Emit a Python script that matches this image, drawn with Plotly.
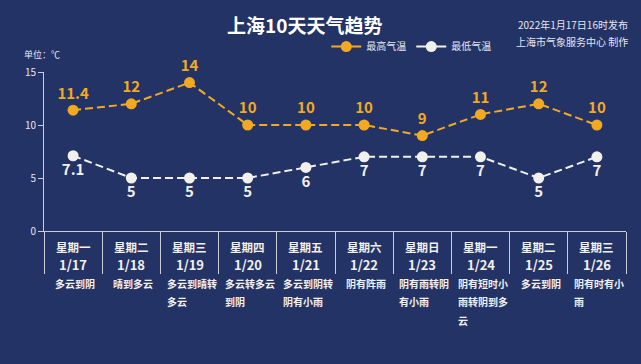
import plotly.graph_objects as go

weekdays = ["星期一", "星期二", "星期三", "星期四", "星期五", "星期六", "星期日", "星期一", "星期二", "星期三"]
dates = ["1/17", "1/18", "1/19", "1/20", "1/21", "1/22", "1/23", "1/24", "1/25", "1/26"]
high = [11.4, 12, 14, 10, 10, 10, 9, 11, 12, 10]
low = [7.1, 5, 5, 5, 6, 7, 7, 7, 5, 7]
desc = [
    ["多云到阴"],
    ["晴到多云"],
    ["多云到晴转", "多云"],
    ["多云转多云", "到阴"],
    ["多云到阴转", "阴有小雨"],
    ["阴有阵雨"],
    ["阴有雨转阴", "有小雨"],
    ["阴有短时小", "雨转阴到多", "云"],
    ["多云到阴"],
    ["阴有时有小", "雨"],
]
series_names = ["最高气温", "最低气温"]
yticks = [0, 5, 10, 15]

BG = "#233366"
ORANGE = "#f2a922"
WHITE = "#f2f0ec"
FONT = "Noto Sans CJK SC"

fig = go.Figure()
fig.add_trace(go.Scatter(
    x=dates, y=high, name=series_names[0], mode="lines+markers+text", showlegend=False,
    line=dict(color=ORANGE, width=2, dash="8px,4px"),
    marker=dict(color=ORANGE, size=11),
    text=[f"{v:g}" for v in high], textposition="top center",
    textfont=dict(color=ORANGE, size=15, family=FONT, weight="bold"),
    cliponaxis=False,
))
fig.add_trace(go.Scatter(
    x=dates, y=low, name=series_names[1], mode="lines+markers+text", showlegend=False,
    line=dict(color=WHITE, width=2, dash="8px,4px"),
    marker=dict(color=WHITE, size=11),
    text=[f"{v:g}" for v in low], textposition="bottom center",
    textfont=dict(color=WHITE, size=15, family=FONT, weight="bold"),
    cliponaxis=False,
))
# legend entries (solid line + marker, as in the reference legend)
for nm, col in zip(series_names, [ORANGE, WHITE]):
    fig.add_trace(go.Scatter(
        x=[None], y=[None], name=nm, mode="lines+markers",
        line=dict(color=col, width=2), marker=dict(color=col, size=11),
    ))

ann = []
for i, d in enumerate(dates):
    ann.append(dict(x=d, y=0, xref="x", yref="paper", text=weekdays[i], showarrow=False,
                    yanchor="middle", yshift=-16,
                    font=dict(color=WHITE, size=11.5, family=FONT, weight="bold")))
    ann.append(dict(x=d, y=0, xref="x", yref="paper", text=d, showarrow=False,
                    yanchor="middle", yshift=-33,
                    font=dict(color=WHITE, size=13, family=FONT, weight="bold")))
    fs = 10
    maxlen = max(len(s) for s in desc[i])
    for j, line in enumerate(desc[i]):
        ann.append(dict(x=d, y=0, xref="x", yref="paper", text=line, showarrow=False,
                        xanchor="left", xshift=-maxlen * fs / 2, yanchor="middle",
                        yshift=-52 - 18.5 * j,
                        font=dict(color=WHITE, size=fs, family=FONT, weight="bold")))

ann.append(dict(x=0.448, y=1.296, xref="paper", yref="paper", text="上海10天天气趋势",
                showarrow=False, yanchor="middle",
                font=dict(color="white", size=19, family=FONT, weight="bold")))
ann.append(dict(x=1.007, y=1.30, xref="paper", yref="paper", text="2022年1月17日16时发布",
                showarrow=False, xanchor="right", yanchor="middle",
                font=dict(color="#e4e6ee", size=10, family=FONT)))
ann.append(dict(x=1.007, y=1.19, xref="paper", yref="paper", text="上海市气象服务中心 制作",
                showarrow=False, xanchor="right", yanchor="middle",
                font=dict(color="#e4e6ee", size=10, family=FONT)))
ann.append(dict(x=-0.038, y=1.107, xref="paper", yref="paper", text="单位：℃",
                showarrow=False, xanchor="left", yanchor="middle",
                font=dict(color="#e4e6ee", size=9, family=FONT)))

fig.update_layout(
    width=641, height=364,
    paper_bgcolor=BG, plot_bgcolor=BG,
    margin=dict(l=44, r=15, t=72, b=133),
    font=dict(family=FONT, color="#e4e6ee"),
    showlegend=True,
    legend=dict(orientation="h", x=0.485, y=1.16, xanchor="left", yanchor="middle",
                font=dict(size=10, color="#e4e6ee", family=FONT),
                bgcolor="rgba(0,0,0,0)", itemwidth=30, tracegroupgap=0),
    annotations=ann,
    xaxis=dict(type="category", range=[-0.5, 9.5], showgrid=False, zeroline=False,
               showline=True, linecolor="#c9cdd8", linewidth=1,
               ticks="outside", tickson="boundaries", ticklen=42, tickcolor="#c9cdd8",
               tickwidth=1, showticklabels=False, fixedrange=True),
    yaxis=dict(range=[0, 15], tickvals=yticks, showgrid=False, zeroline=False,
               showline=True, linecolor="#c9cdd8", linewidth=1,
               ticks="outside", ticklen=5, tickcolor="#c9cdd8",
               tickfont=dict(size=10, color="#e4e6ee", family=FONT), fixedrange=True),
)

fig.write_html("out.html", config={"displayModeBar": False},
               post_script="document.body.style.margin='0';document.body.style.overflow='hidden';document.body.style.background='" + BG + "';")
